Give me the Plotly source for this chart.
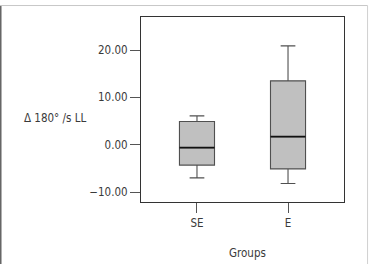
import plotly.graph_objects as go

groups = ["SE", "E"]
lower_whisker = [-7.0, -8.2]
q1_vals = [-4.3, -5.1]
median_vals = [-0.6, 1.7]
q3_vals = [4.9, 13.5]
upper_whisker = [6.1, 20.9]
y_ticks = [-10, 0, 10, 20]

FONT = "DejaVu Sans Condensed, sans-serif"
TXT = "#3a3a3a"
FS = 11.5

fig = go.Figure()
fig.add_trace(go.Box(
    x=groups,
    q1=q1_vals, median=median_vals, q3=q3_vals,
    lowerfence=lower_whisker, upperfence=upper_whisker,
    fillcolor="#c0c0c0",
    line=dict(color="#505050", width=1.1),
    whiskerwidth=0.42,
    boxpoints=False,
    showlegend=False,
    hoverinfo="skip",
))
# darker median line drawn over the box
fig.add_trace(go.Box(
    x=groups,
    q1=median_vals, median=median_vals, q3=median_vals,
    lowerfence=median_vals, upperfence=median_vals,
    fillcolor="rgba(0,0,0,0)",
    line=dict(color="#111111", width=1.8),
    whiskerwidth=0,
    boxpoints=False,
    showlegend=False,
    hoverinfo="skip",
))

fig.update_layout(
    width=369, height=264,
    margin=dict(l=141, r=25, t=17, b=62),
    paper_bgcolor="white", plot_bgcolor="white",
    font=dict(family=FONT, size=FS, color=TXT),
    boxgap=0.45, boxmode="overlay",
    xaxis=dict(
        type="category", range=[-0.615, 1.615],
        showline=True, mirror=True, linecolor="#333333", linewidth=1.1,
        ticks="outside", ticklen=10, tickcolor="#555555", tickwidth=1.1,
        showgrid=False, zeroline=False,
        tickfont=dict(family=FONT, size=FS, color=TXT),
    ),
    yaxis=dict(
        range=[-12.1, 27.0],
        tickvals=y_ticks, tickformat=".2f",
        showline=True, mirror=True, linecolor="#333333", linewidth=1.1,
        ticks="outside", ticklen=10, tickcolor="#555555", tickwidth=1.1,
        showgrid=False, zeroline=False,
        tickfont=dict(family=FONT, size=FS, color=TXT),
    ),
    annotations=[
        dict(text="Δ 180° /s LL", xref="paper", yref="paper",
             x=-0.424, y=0.454, xanchor="center", yanchor="middle",
             showarrow=False,
             font=dict(family=FONT, size=FS, color=TXT)),
        dict(text="Groups", xref="paper", yref="paper",
             x=0.525, y=-0.278, xanchor="center", yanchor="middle",
             showarrow=False,
             font=dict(family=FONT, size=FS, color=TXT)),
    ],
    shapes=[
        dict(type="line", xref="paper", yref="paper",
             x0=-0.692, x1=-0.692, y0=1.062, y1=-0.4,
             line=dict(color="#666666", width=2)),
        dict(type="line", xref="paper", yref="paper",
             x0=-0.695, x1=1.116, y0=1.062, y1=1.062,
             line=dict(color="#c8c8c8", width=1)),
        dict(type="line", xref="paper", yref="paper",
             x0=1.116, x1=1.116, y0=1.062, y1=-0.4,
             line=dict(color="#d0d0d0", width=1)),
    ],
)

fig.write_html("out.html")
